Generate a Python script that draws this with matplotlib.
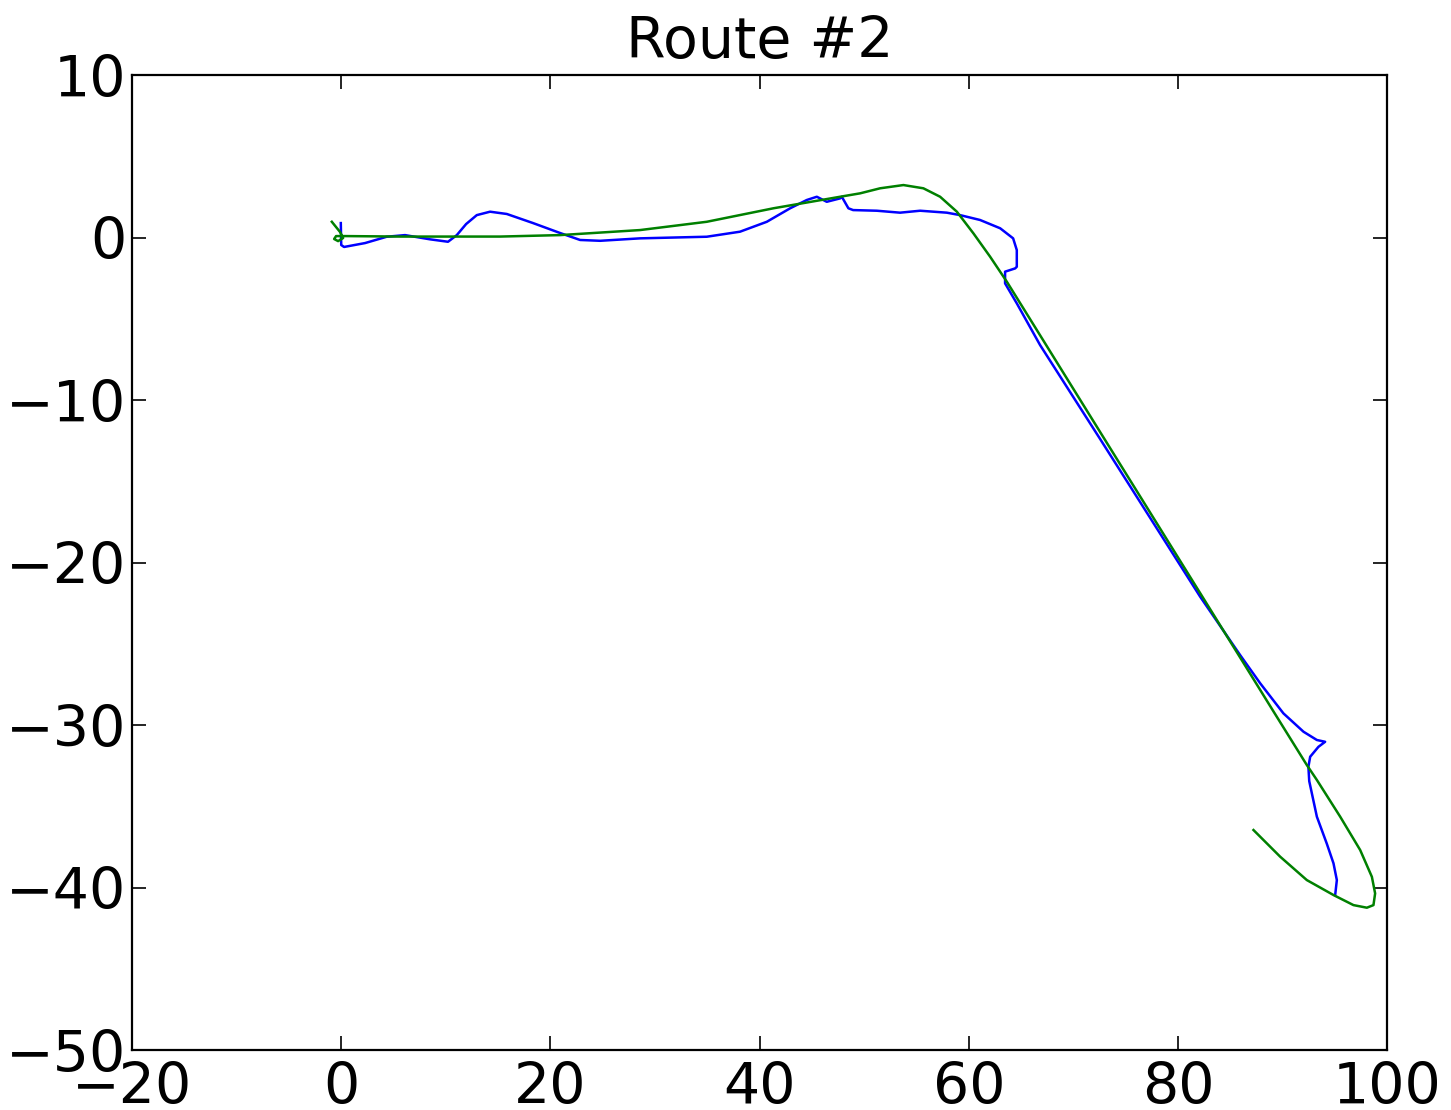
import numpy as np
import matplotlib
matplotlib.use("Agg")
import matplotlib.pyplot as plt

# measured route (blue)
measured_x = [-0.04, 0.0, 0.27, 2.28, 4.35, 6.10, 8.49, 10.21, 11.05, 11.94, 12.96, 14.23,
              15.83, 18.34, 20.92, 22.84, 24.75, 28.57, 34.95, 38.13, 40.69, 42.92, 44.51,
              45.47, 46.42, 47.70, 47.86, 48.49, 48.94, 51.21, 53.43, 55.35, 57.90, 59.17,
              61.08, 63.00, 64.24, 64.59, 64.59, 64.43, 63.47, 63.47, 64.59, 66.82, 72.56,
              82.12, 85.95, 87.86, 90.08, 92.00, 93.28, 94.07, 93.43, 92.64, 92.47, 92.55,
              93.28, 94.23, 94.87, 95.19, 95.03]
measured_y = [0.89, -0.46, -0.58, -0.34, 0.05, 0.15, -0.11, -0.26, 0.15, 0.83, 1.38, 1.59,
              1.45, 0.89, 0.28, -0.15, -0.20, -0.05, 0.05, 0.36, 0.97, 1.80, 2.31,
              2.51, 2.20, 2.41, 2.51, 1.80, 1.69, 1.65, 1.53, 1.65, 1.53, 1.38,
              1.08, 0.57, -0.05, -0.77, -1.80, -1.90, -2.10, -2.82, -4.05, -6.62, -12.40,
              -22.10, -25.70, -27.43, -29.28, -30.41, -30.92, -31.03, -31.34, -31.95, -32.57, -33.45,
              -35.64, -37.30, -38.51, -39.54, -40.46]

# fitted route (green)
fitted_x = [-0.90, -0.11, 0.18, -0.30, -0.68, -0.49, 0.37, 5.63, 15.19, 20.92, 28.57, 34.95,
            41.32, 47.70, 49.61, 51.52, 53.75, 55.66, 57.26, 58.86, 60.44, 62.04, 63.64,
            72.56, 82.12, 85.95, 89.13, 92.32, 93.28, 95.51, 97.42, 98.54, 98.85, 98.69,
            98.06, 96.78, 94.87, 92.32, 89.77, 87.22]
fitted_y = [0.97, 0.34, -0.03, -0.22, -0.09, 0.09, 0.09, 0.06, 0.06, 0.15, 0.46, 0.97,
            1.80, 2.51, 2.72, 3.03, 3.23, 3.03, 2.51, 1.59, 0.26, -1.18, -2.72,
            -11.97, -21.88, -25.85, -29.16, -32.46, -33.38, -35.64, -37.69, -39.34, -40.36, -41.08,
            -41.24, -41.08, -40.46, -39.54, -38.10, -36.46]

plt.rcParams["font.family"] = "DejaVu Sans"
plt.rcParams["font.size"] = 41

fig = plt.figure(figsize=(14.51, 11.10), dpi=100)
ax = fig.add_axes([0.091, 0.054, 0.865, 0.8784])

ax.plot(measured_x, measured_y, color="#0000ff", lw=1.8)
ax.plot(fitted_x, fitted_y, color="#008000", lw=1.8)

ax.set_xlim(-20, 100)
ax.set_ylim(-50, 10)
ax.set_xticks(np.arange(-20, 101, 20))
ax.set_yticks(np.arange(-50, 11, 10))
ax.tick_params(direction="in", length=10, width=1.2, top=True, right=True, labelsize=41)
ax.tick_params(axis="x", pad=8)
ax.tick_params(axis="y", pad=4)
for s in ax.spines.values():
    s.set_linewidth(1.6)
ax.set_title("Route #2", fontsize=41, pad=12)

fig.savefig("out.png", dpi=100)
